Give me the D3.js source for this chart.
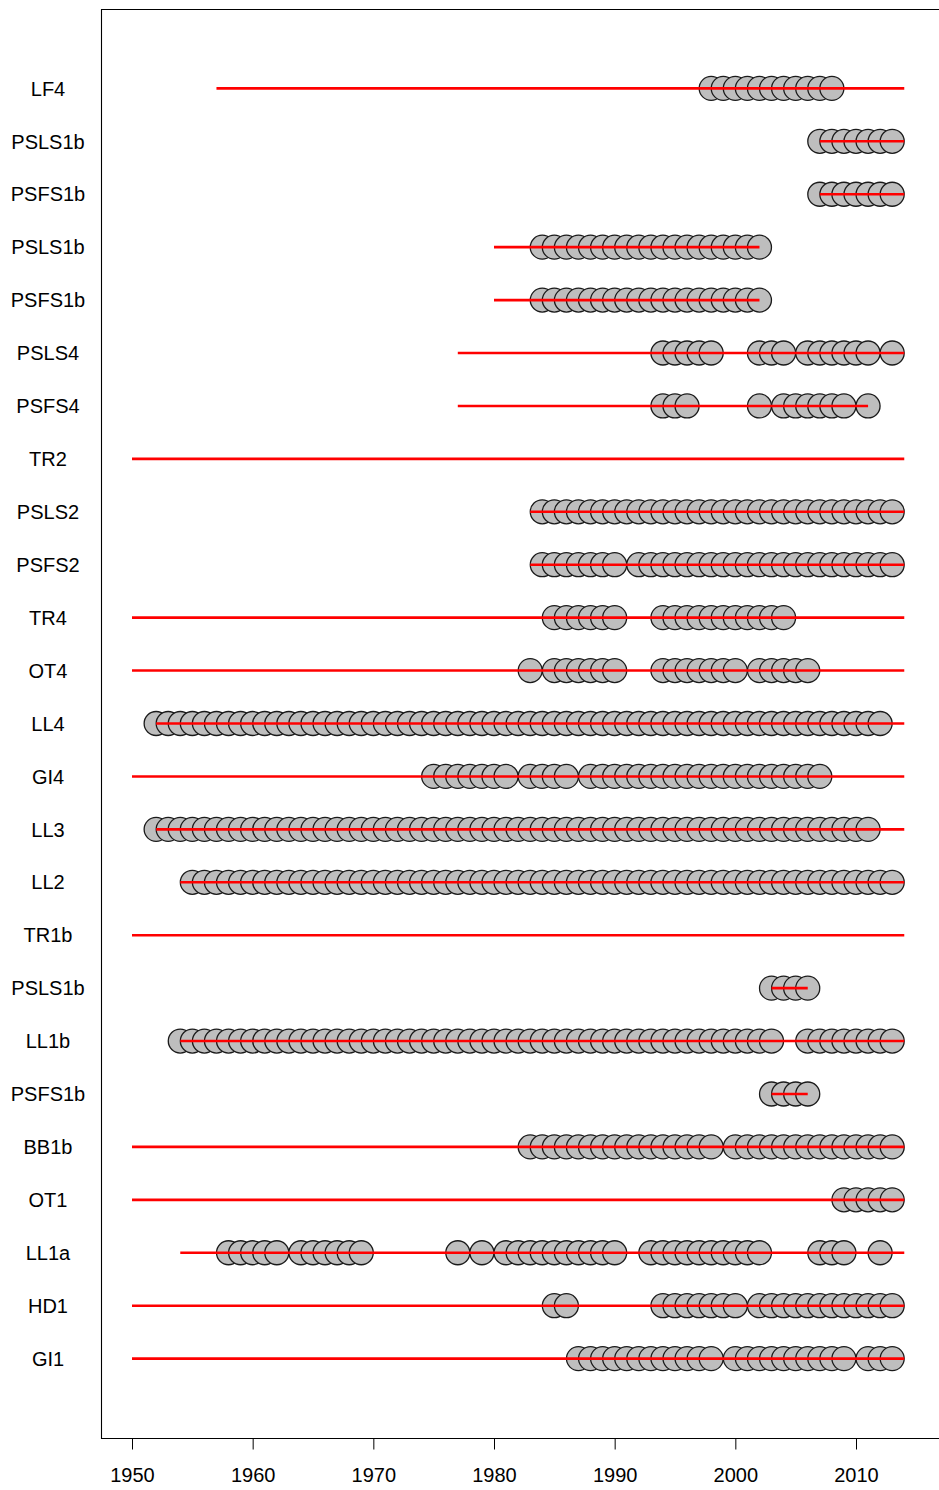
<!DOCTYPE html>
<html>
<head>
<meta charset="utf-8">
<script src="https://cdn.jsdelivr.net/npm/d3@7/dist/d3.min.js"></script>
<style>
  html, body { margin: 0; padding: 0; background: #fff; }
  svg { display: block; }
  text { font-family: "Liberation Sans", Arial, Helvetica, sans-serif; fill: #000; }
</style>
</head>
<body>
<svg id="chart" width="939" height="1490"></svg>
<script>
// Series shown top to bottom
const rowLabels = ["LF4", "PSLS1b", "PSFS1b", "PSLS1b", "PSFS1b", "PSLS4", "PSFS4", "TR2",
  "PSLS2", "PSFS2", "TR4", "OT4", "LL4", "GI4", "LL3", "LL2", "TR1b", "PSLS1b", "LL1b",
  "PSFS1b", "BB1b", "OT1", "LL1a", "HD1", "GI1"];

// Period covered by each series (red line)
const lineFrom = [1957, 2007, 2007, 1980, 1980, 1977, 1977, 1950,
  1983, 1983, 1950, 1950, 1952, 1950, 1952, 1954, 1950, 2003, 1954,
  2003, 1950, 1950, 1954, 1950, 1950];
const lineTo = [2014, 2014, 2014, 2002, 2002, 2014, 2011, 2014,
  2014, 2014, 2014, 2014, 2014, 2014, 2014, 2014, 2014, 2006, 2014,
  2006, 2014, 2014, 2014, 2014, 2014];

// Years with observations (grey dots)
const obsYears = [
  [1998, 1999, 2000, 2001, 2002, 2003, 2004, 2005, 2006, 2007, 2008],
  [2007, 2008, 2009, 2010, 2011, 2012, 2013],
  [2007, 2008, 2009, 2010, 2011, 2012, 2013],
  [1984, 1985, 1986, 1987, 1988, 1989, 1990, 1991, 1992, 1993, 1994, 1995, 1996, 1997, 1998, 1999, 2000, 2001, 2002],
  [1984, 1985, 1986, 1987, 1988, 1989, 1990, 1991, 1992, 1993, 1994, 1995, 1996, 1997, 1998, 1999, 2000, 2001, 2002],
  [1994, 1995, 1996, 1997, 1998, 2002, 2003, 2004, 2006, 2007, 2008, 2009, 2010, 2011, 2013],
  [1994, 1995, 1996, 2002, 2004, 2005, 2006, 2007, 2008, 2009, 2011],
  [],
  [1984, 1985, 1986, 1987, 1988, 1989, 1990, 1991, 1992, 1993, 1994, 1995, 1996, 1997, 1998, 1999,
   2000, 2001, 2002, 2003, 2004, 2005, 2006, 2007, 2008, 2009, 2010, 2011, 2012, 2013],
  [1984, 1985, 1986, 1987, 1988, 1989, 1990, 1992, 1993, 1994, 1995, 1996, 1997, 1998, 1999,
   2000, 2001, 2002, 2003, 2004, 2005, 2006, 2007, 2008, 2009, 2010, 2011, 2012, 2013],
  [1985, 1986, 1987, 1988, 1989, 1990, 1994, 1995, 1996, 1997, 1998, 1999, 2000, 2001, 2002, 2003, 2004],
  [1983, 1985, 1986, 1987, 1988, 1989, 1990, 1994, 1995, 1996, 1997, 1998, 1999, 2000,
   2002, 2003, 2004, 2005, 2006],
  [1952, 1953, 1954, 1955, 1956, 1957, 1958, 1959, 1960, 1961, 1962, 1963, 1964, 1965, 1966, 1967,
   1968, 1969, 1970, 1971, 1972, 1973, 1974, 1975, 1976, 1977, 1978, 1979, 1980, 1981, 1982, 1983,
   1984, 1985, 1986, 1987, 1988, 1989, 1990, 1991, 1992, 1993, 1994, 1995, 1996, 1997, 1998, 1999,
   2000, 2001, 2002, 2003, 2004, 2005, 2006, 2007, 2008, 2009, 2010, 2011, 2012],
  [1975, 1976, 1977, 1978, 1979, 1980, 1981, 1983, 1984, 1985, 1986, 1988, 1989, 1990, 1991, 1992,
   1993, 1994, 1995, 1996, 1997, 1998, 1999, 2000, 2001, 2002, 2003, 2004, 2005, 2006, 2007],
  [1952, 1953, 1954, 1955, 1956, 1957, 1958, 1959, 1960, 1961, 1962, 1963, 1964, 1965, 1966, 1967,
   1968, 1969, 1970, 1971, 1972, 1973, 1974, 1975, 1976, 1977, 1978, 1979, 1980, 1981, 1982, 1983,
   1984, 1985, 1986, 1987, 1988, 1989, 1990, 1991, 1992, 1993, 1994, 1995, 1996, 1997, 1998, 1999,
   2000, 2001, 2002, 2003, 2004, 2005, 2006, 2007, 2008, 2009, 2010, 2011],
  [1955, 1956, 1957, 1958, 1959, 1960, 1961, 1962, 1963, 1964, 1965, 1966, 1967,
   1968, 1969, 1970, 1971, 1972, 1973, 1974, 1975, 1976, 1977, 1978, 1979, 1980, 1981, 1982, 1983,
   1984, 1985, 1986, 1987, 1988, 1989, 1990, 1991, 1992, 1993, 1994, 1995, 1996, 1997, 1998, 1999,
   2000, 2001, 2002, 2003, 2004, 2005, 2006, 2007, 2008, 2009, 2010, 2011, 2012, 2013],
  [],
  [2003, 2004, 2005, 2006],
  [1954, 1955, 1956, 1957, 1958, 1959, 1960, 1961, 1962, 1963, 1964, 1965, 1966, 1967,
   1968, 1969, 1970, 1971, 1972, 1973, 1974, 1975, 1976, 1977, 1978, 1979, 1980, 1981, 1982, 1983,
   1984, 1985, 1986, 1987, 1988, 1989, 1990, 1991, 1992, 1993, 1994, 1995, 1996, 1997, 1998, 1999,
   2000, 2001, 2002, 2003, 2006, 2007, 2008, 2009, 2010, 2011, 2012, 2013],
  [2003, 2004, 2005, 2006],
  [1983, 1984, 1985, 1986, 1987, 1988, 1989, 1990, 1991, 1992, 1993, 1994, 1995, 1996, 1997, 1998,
   2000, 2001, 2002, 2003, 2004, 2005, 2006, 2007, 2008, 2009, 2010, 2011, 2012, 2013],
  [2009, 2010, 2011, 2012, 2013],
  [1958, 1959, 1960, 1961, 1962, 1964, 1965, 1966, 1967, 1968, 1969, 1977, 1979,
   1981, 1982, 1983, 1984, 1985, 1986, 1987, 1988, 1989, 1990,
   1993, 1994, 1995, 1996, 1997, 1998, 1999, 2000, 2001, 2002, 2007, 2008, 2009, 2012],
  [1985, 1986, 1994, 1995, 1996, 1997, 1998, 1999, 2000,
   2002, 2003, 2004, 2005, 2006, 2007, 2008, 2009, 2010, 2011, 2012, 2013],
  [1987, 1988, 1989, 1990, 1991, 1992, 1993, 1994, 1995, 1996, 1997, 1998,
   2000, 2001, 2002, 2003, 2004, 2005, 2006, 2007, 2008, 2009, 2011, 2012, 2013]
];

const xTicks = [1950, 1960, 1970, 1980, 1990, 2000, 2010];

// Layout
const frame = { left: 101, top: 9, bottom: 1438, right: 946 };
const svg = d3.select("#chart");

const x = d3.scaleLinear().domain([1950, 2010]).range([132, 856]);
const nRows = rowLabels.length;
// row index 0 (top) .. nRows-1 (bottom), with 1.5 rows of padding above and below
const y = d3.scaleLinear().domain([-1.5, nRows + 0.5]).range([frame.top, frame.bottom]);

// Plot frame (the right edge sits past the page edge)
svg.append("path")
  .attr("d", `M${frame.right},${frame.top + 0.5}H${frame.left + 0.5}V${frame.bottom + 0.5}H${frame.right}`)
  .attr("fill", "none")
  .attr("stroke", "#000")
  .attr("stroke-width", 1.1);

// Bottom axis
const axis = d3.axisBottom(x).tickValues(xTicks).tickFormat(d3.format("d"))
  .tickSize(11).tickPadding(18);
const gx = svg.append("g")
  .attr("transform", `translate(0,${frame.bottom + 0.5})`)
  .call(axis);
gx.select(".domain").remove();
gx.selectAll(".tick line").attr("stroke", "#000").attr("stroke-width", 1);
gx.selectAll(".tick text")
  .attr("font-size", 20)
  .attr("font-family", "'Liberation Sans', Arial, sans-serif")
  .attr("fill", "#000");

// Row labels
svg.append("g").selectAll("text")
  .data(rowLabels)
  .join("text")
  .attr("x", 48)
  .attr("y", (d, i) => y(i))
  .attr("dy", "0.36em")
  .attr("text-anchor", "middle")
  .attr("font-size", 20)
  .text(d => d);

// Rows: dots first, then the red period line on top
const rows = svg.append("g").selectAll("g")
  .data(rowLabels.map((label, i) => ({ label, i, from: lineFrom[i], to: lineTo[i], years: obsYears[i] })))
  .join("g");

rows.selectAll("circle")
  .data(d => d.years.map(yr => ({ yr, i: d.i })))
  .join("circle")
  .attr("cx", d => x(d.yr))
  .attr("cy", d => y(d.i))
  .attr("r", 12)
  .attr("fill", "#bebebe")
  .attr("stroke", "#1a1a1a")
  .attr("stroke-width", 1.3);

rows.append("line")
  .attr("x1", d => x(d.from))
  .attr("x2", d => x(d.to))
  .attr("y1", d => y(d.i))
  .attr("y2", d => y(d.i))
  .attr("stroke", "#ff0000")
  .attr("stroke-width", 2.6);
</script>
</body>
</html>
